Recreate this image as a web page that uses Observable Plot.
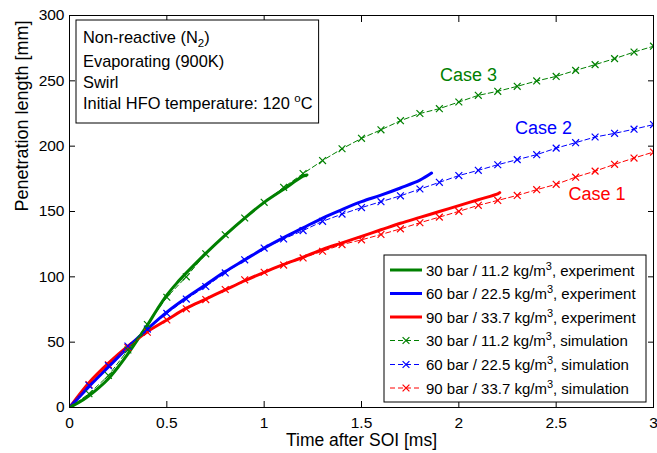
<!DOCTYPE html>
<html><head><meta charset="utf-8">
<script src="https://cdn.jsdelivr.net/npm/d3@7"></script>
<script src="https://cdn.jsdelivr.net/npm/@observablehq/plot@0.6"></script>
<style>
body{margin:0;background:#fff}
svg{font-family:"Liberation Sans",Arial,Helvetica,sans-serif}
</style>
</head><body><div id="chart"></div>
<script>
// ---- data ----
const xTicks = [0, 0.5, 1, 1.5, 2, 2.5, 3];
const yTicks = [0, 50, 100, 150, 200, 250, 300];

const simTime = [0,0.1,0.2,0.3,0.4,0.5,0.6,0.7,0.8,0.9,1.0,1.1,1.2,1.3,1.4,1.5,1.6,1.7,1.8,1.9,2.0,2.1,2.2,2.3,2.4,2.5,2.6,2.7,2.8,2.9,3.0];
const simCase3 = [0,10.5,24.5,44,63.5,84.4,100,117.6,132.2,145,157,168.5,179,189,198,206,212.5,219.5,225,228.7,233.8,238.9,242,245.8,249.9,253.4,258,262.4,267,272,276.5];
const simCase2 = [0,17,32,47,60,72,83,92.6,103,113,122,129,135.4,142.5,148,153,157.5,162,167.2,172.3,177.5,181.5,185.8,189.7,193.5,198.5,202.7,207,209.8,213,216.5];
const simCase1 = [0,17.5,32.7,46,57.6,67,75.5,82.6,90.3,97.7,103.5,109,114.5,119.6,124.7,128.3,132.4,136.7,141.4,145.7,150.1,154.7,158.5,162.3,166.7,170.8,176.3,180.9,186.1,190.9,195.5];

const expTime3 = [0,0.05,0.1,0.15,0.2,0.25,0.3,0.35,0.4,0.45,0.5,0.55,0.6,0.7,0.8,0.9,1.0,1.1,1.2,1.22];
const expCase3 = [0,4,9,15,22,31,41,52,63,75,86,95,103,118,132,145,157,167,177,178];
const expTime2 = [0,0.1,0.2,0.3,0.4,0.5,0.6,0.7,0.8,0.9,1.0,1.1,1.2,1.3,1.4,1.5,1.6,1.7,1.8,1.86];
const expCase2 = [0,16,31,46,60,73,84,94,104,113,122,130,137.5,145,151.5,157.5,162.5,168,174,179.4];
const expTime1 = [0,0.1,0.2,0.3,0.4,0.5,0.6,0.7,0.8,0.9,1.0,1.1,1.2,1.3,1.4,1.5,1.6,1.7,1.8,1.9,2.0,2.1,2.2,2.21];
const expCase1 = [0,19,34,47,58,67,76,83,90,97,103.5,109.5,115,121,126,131,136,141,145.5,150,154.5,159,163.5,164.4];

const seriesNames = ["30 bar / 11.2 kg/m", "60 bar / 22.5 kg/m", "90 bar / 33.7 kg/m"];
const seriesColors = ["#008000", "#0000ff", "#ff0000"];
const caseLabels = [
  {text: "Case 3", t: 2.05, v: 254, color: "#008000"},
  {text: "Case 2", t: 2.435, v: 213.5, color: "#0000ff"},
  {text: "Case 1", t: 2.71, v: 163, color: "#ff0000"}
];
const infoLines = ["Non-reactive (N", "Evaporating (900K)", "Swirl", "Initial HFO temperature: 120 "];

// ---- tables ----
const toRows = (ts, vs) => ts.map((t, i) => ({t, v: vs[i]}));
const sims = [toRows(simTime, simCase3), toRows(simTime, simCase2), toRows(simTime, simCase1)];
const exps = [toRows(expTime3, expCase3), toRows(expTime2, expCase2), toRows(expTime1, expCase1)];

const marks = [];
[2,1,0].forEach(i => {
  marks.push(Plot.line(exps[i], {x: "t", y: "v", stroke: seriesColors[i], strokeWidth: 3, curve: "catmull-rom", clip: "frame"}));
});
[2,1,0].forEach(i => {
  marks.push(Plot.line(sims[i], {x: "t", y: "v", stroke: seriesColors[i], strokeWidth: 1, strokeDasharray: "5,3", clip: "frame"}));
  marks.push(Plot.dot(sims[i], {x: "t", y: "v", stroke: seriesColors[i], symbol: "times", r: 3.2, strokeWidth: 1.2, clip: "frame"}));
});

const plot = Plot.plot({
  width: 657, height: 453,
  marginLeft: 69, marginRight: 4, marginTop: 15, marginBottom: 46,
  style: {fontFamily: '"Liberation Sans", Arial, sans-serif', fontSize: "15.5px", background: "white", color: "black"},
  x: {domain: [0, 3]},
  y: {domain: [0, 300]},
  marks: [
    ...marks,
    Plot.frame({stroke: "black", strokeWidth: 1}),
    Plot.axisX(xTicks, {anchor: "bottom", tickSize: -6, tickFormat: () => "", label: null}),
    Plot.axisX(xTicks, {anchor: "top", tickSize: -6, tickFormat: () => "", label: null}),
    Plot.axisY(yTicks, {anchor: "left", tickSize: -6, tickFormat: () => "", label: null}),
    Plot.axisY(yTicks, {anchor: "right", tickSize: -6, tickFormat: () => "", label: null}),
    Plot.axisX(xTicks, {anchor: "bottom", tickSize: 0, tickPadding: 9, tickFormat: d => String(d), label: null, fontSize: 15.5}),
    Plot.axisY(yTicks, {anchor: "left", tickSize: 0, tickPadding: 5, tickFormat: d => String(d), label: null, fontSize: 15.5}),
    Plot.text(["Time after SOI [ms]"], {frameAnchor: "bottom", dy: 32.5, text: d => d, fontSize: 17.5, lineAnchor: "middle"}),
    Plot.text(["Penetration length [mm]"], {frameAnchor: "left", dx: -47, rotate: -90, text: d => d, fontSize: 18, lineAnchor: "middle"}),
    Plot.text(caseLabels, {x: "t", y: "v", text: "text", fill: "color", fontSize: 18, lineAnchor: "middle"})
  ]
});
document.getElementById("chart").appendChild(plot);

// ---- annotation box & legend ----
const svg = d3.select(plot);
const info = svg.append("g").attr("font-size", 16.4).attr("fill", "black").attr("text-anchor", "start");
const infoRect = info.append("rect").attr("x", 76).attr("y", 20).attr("height", 103)
  .attr("fill", "white").attr("stroke", "black");
const baselines = [42.5, 67, 88, 109];
let maxW = 0;
infoLines.forEach((s, i) => {
  const t = info.append("text").attr("x", 83).attr("y", baselines[i]);
  t.append("tspan").text(s);
  if (i === 0) { t.append("tspan").attr("dy", 4).attr("font-size", 11.5).text("2"); t.append("tspan").attr("dy", -4).text(")"); }
  if (i === 3) { t.append("tspan").attr("dy", -7).attr("font-size", 11.5).text("o"); t.append("tspan").attr("dy", 7).text("C"); }
  maxW = Math.max(maxW, t.node().getComputedTextLength());
});
infoRect.attr("width", maxW + 13);

const leg = svg.append("g").attr("font-size", 15).attr("fill", "black").attr("text-anchor", "start");
leg.append("rect").attr("x", 384).attr("y", 255).attr("width", 262).attr("height", 147)
  .attr("fill", "white").attr("stroke", "black");
const rowsY = [270, 293.5, 317, 340.5, 364.5, 388];
for (let k = 0; k < 6; k++) {
  const i = k % 3, sim = k >= 3, cy = rowsY[k];
  const ln = leg.append("line").attr("x1", 390).attr("x2", 422).attr("y1", cy).attr("y2", cy)
    .attr("stroke", seriesColors[i]).attr("stroke-width", sim ? 1 : 3);
  if (sim) {
    ln.attr("stroke-dasharray", "5,3");
    leg.append("path").attr("d", d3.symbol(d3.symbolTimes, 32)()).attr("transform", `translate(406,${cy})`)
      .attr("fill", "none").attr("stroke", seriesColors[i]).attr("stroke-width", 1.2);
  }
  const t = leg.append("text").attr("x", 426).attr("y", cy + 5.5);
  t.append("tspan").text(seriesNames[i]);
  t.append("tspan").attr("dy", -6).attr("font-size", 11).text("3");
  t.append("tspan").attr("dy", 6).text(sim ? ", simulation" : ", experiment");
}
</script>
</body></html>
